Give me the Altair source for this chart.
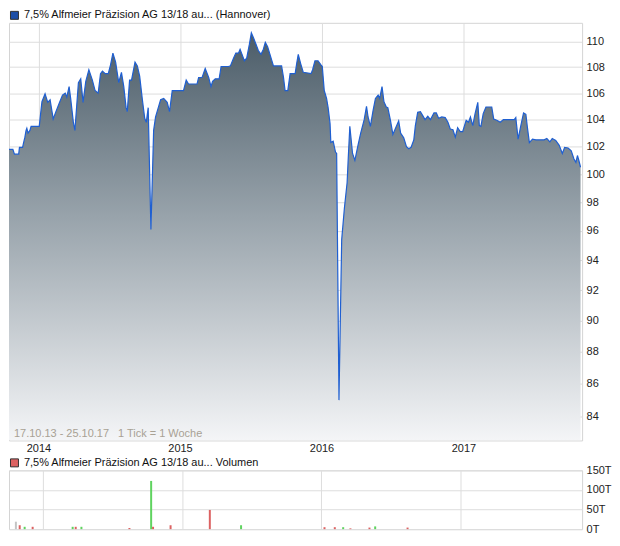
import altair as alt
import pandas as pd

START = pd.Timestamp("2013-10-17")

series_name = "7,5% Alfmeier Präzision AG 13/18 au... (Hannover)"
volume_name = "7,5% Alfmeier Präzision AG 13/18 au... Volumen"
footer = "17.10.13 - 25.10.17\u00a0\u00a0\u00a01 Tick = 1 Woche"

# price: days after 17.10.2013 and price
price_day = [0, 10, 14, 25, 27, 35, 37, 41, 44, 46, 49, 54, 57, 78, 81, 85, 93, 100, 106, 114,
             121, 129, 138, 145, 149, 155, 159, 166, 170, 174, 179, 185, 191, 198, 206, 215, 222, 230, 236, 241,
             248, 256, 262, 268, 275, 283, 290, 296, 302, 305, 311, 316, 325, 331, 337, 344, 350, 354, 359, 366,
             369, 373, 378, 385, 391, 399, 408, 414, 421, 450, 457, 463, 485, 489, 498, 506, 515, 521, 525, 532,
             542, 547, 566, 571, 579, 585, 592, 596, 601, 607, 613, 620, 625, 630, 637, 643, 650, 656, 661, 667,
             673, 682, 703, 708, 712, 719, 725, 738, 742, 746, 752, 759, 779, 783, 789, 797, 804, 808, 813, 819,
             823, 828, 830, 836, 842, 845, 851, 858, 865, 872, 875, 879, 886, 892, 900, 907, 916, 922, 926, 932,
             939, 945, 952, 956, 962, 967, 973, 977, 984, 990, 996, 1005, 1010, 1018, 1025, 1031, 1037, 1044, 1048, 1054,
             1061, 1067, 1073, 1080, 1087, 1096, 1102, 1108, 1116, 1125, 1132, 1138, 1145, 1151, 1157, 1164, 1170, 1179, 1185, 1190,
             1196, 1202, 1209, 1213, 1217, 1223, 1230, 1245, 1250, 1258, 1267, 1275, 1303, 1307, 1313, 1320, 1327, 1333, 1337, 1342,
             1350, 1359, 1380, 1387, 1395, 1401, 1410, 1419, 1427, 1433, 1442, 1450, 1457, 1462, 1466, 1470, 1474]
price_val = [101.8, 101.8, 101.45, 101.45, 101.95, 101.95, 102.2, 102.7, 103.2, 103.35, 103.0, 103.2, 103.5, 103.5, 104.3, 105.35, 105.95, 105.3, 105.5, 104.05,
             104.6, 105.2, 105.85, 106.0, 105.7, 106.5, 105.6, 103.8, 103.2, 104.8, 106.8, 107.1, 105.3, 106.9, 107.8, 107.0, 106.2, 106.0, 107.5, 107.7,
             107.5, 107.5, 108.2, 109.1, 108.4, 106.8, 107.6, 106.5, 104.9, 104.6, 107.0, 107.0, 108.4, 108.1, 107.3, 105.5, 104.1, 103.8, 104.9, 96.1,
             99.0, 103.2, 104.2, 104.9, 105.5, 105.6, 105.3, 104.6, 106.2, 106.2, 107.0, 106.7, 106.7, 107.2, 107.2, 107.9, 107.2, 106.5, 106.9, 107.1,
             107.1, 108.05, 108.05, 108.1, 108.7, 109.1, 109.1, 109.4, 109.0, 108.5, 108.7, 109.8, 110.7, 110.35, 109.8, 109.3, 109.0, 109.4, 109.95, 109.6,
             109.0, 108.1, 108.1, 107.2, 106.2, 106.2, 107.5, 107.5, 108.3, 109.0, 108.3, 107.6, 107.5, 107.8, 108.5, 108.5, 108.2, 108.05, 106.2, 105.6,
             104.9, 103.7, 102.3, 102.4, 101.6, 101.5, 85.0, 95.4, 97.6, 99.4, 101.2, 103.5, 101.5, 101.0, 102.1, 103.0, 104.0, 105.0, 104.2, 103.5,
             104.7, 105.6, 105.85, 105.6, 106.5, 105.35, 104.95, 104.9, 103.9, 102.9, 103.3, 103.9, 103.0, 102.65, 102.0, 101.85, 101.95, 102.5, 103.55, 104.55,
             104.6, 104.3, 104.0, 104.25, 104.0, 104.5, 104.5, 104.1, 104.2, 104.15, 103.8, 103.3, 103.25, 102.7, 103.4, 103.1, 103.1, 103.95, 103.8, 104.2,
             103.55, 104.45, 105.3, 103.55, 103.5, 104.45, 104.95, 104.95, 104.05, 103.95, 103.8, 104.0, 104.0, 104.15, 102.55, 103.55, 104.5, 104.4, 103.4, 102.3,
             102.55, 102.5, 102.5, 102.6, 102.35, 102.6, 102.45, 102.1, 101.5, 101.95, 101.9, 101.7, 101.1, 100.85, 101.35, 100.95, 100.5]

# volume: days after 17.10.2013, thousands, direction
vol_day = [5, 15, 28, 49, 154, 162, 177, 303, 360, 365, 411, 514, 596, 815, 842, 864, 883, 933, 948, 1033]
vol_T = [19, 10, 6, 6, 6, 6, 6, 3, 123, 6, 10, 49, 10, 5, 5, 5, 2, 4, 7, 4]
vol_kind = ["flat", "down", "up", "down", "up", "down", "up", "down", "up", "down",
            "down", "down", "up", "down", "down", "up", "down", "down", "up", "down"]

price_ticks = [84, 86, 88, 90, 92, 94, 96, 98, 100, 102, 104, 106, 108, 110]
vol_ticks = [0, 50, 100, 150]
year_ticks = [2014, 2015, 2016, 2017]

W, H1, H2 = 575, 419, 59
FONT = "Liberation Sans"
GRID = "#dddddd"

price = pd.DataFrame({"date": [START + pd.Timedelta(days=d) for d in price_day], "value": price_val,
                      "name": series_name})
vol = pd.DataFrame({"date": [START + pd.Timedelta(days=d) for d in vol_day], "vol": vol_T, "kind": vol_kind,
                    "name": volume_name})

xdom = [alt.DateTime(year=2013, month=10, date=17), alt.DateTime(year=2017, month=11, date=3)]
year_vals = [alt.DateTime(year=y, month=1, date=1) for y in year_ticks]
YMIN, YMAX = 82.57, 111.5


def legend():
    return alt.Legend(orient="none", legendX=0, legendY=-13, title=None, symbolType="square",
                      symbolSize=64, symbolStrokeColor="#333333", symbolStrokeWidth=1, symbolOpacity=1,
                      labelFontSize=11, labelFont=FONT, labelColor="#111111", labelLimit=0, padding=0,
                      labelOffset=4)


x_top = alt.X("date:T", scale=alt.Scale(domain=xdom, nice=False),
              axis=alt.Axis(values=year_vals, format="%Y", grid=True, gridColor=GRID, ticks=False, tickSize=0,
                            domain=False, labelPadding=2, labelFlush=False, labelOverlap=False, title=None))
y_top = alt.Y("value:Q", scale=alt.Scale(type="log", domain=[YMIN, YMAX], nice=False),
              axis=alt.Axis(orient="right", values=price_ticks, format="d", grid=True, gridColor=GRID,
                            ticks=False, tickSize=0, domain=False, labelPadding=4, labelOverlap=False, title=None))

grad = alt.Gradient(gradient="linear",
                    stops=[alt.GradientStop(color="#4b5c68", offset=0),
                           alt.GradientStop(color="#98a3ab", offset=0.45),
                           alt.GradientStop(color="#f4f5f7", offset=1)],
                    x1=1, x2=1, y1=0, y2=1)

base = alt.Chart(price)
area = base.mark_area(color=grad, clip=True).encode(x=x_top, y=y_top, y2=alt.datum(YMIN))
line = base.mark_line(color="#1f5fd1", strokeWidth=1.2, clip=True).encode(x=x_top, y=y_top)
leg_top = base.mark_point(shape="square", filled=True, opacity=0).encode(
    x=x_top, y=y_top,
    fill=alt.Fill("name:N", scale=alt.Scale(range=["#1d4ea6"]), legend=legend()))
txt = alt.Chart(pd.DataFrame({"t": [footer]})).mark_text(
    align="left", baseline="middle", color="#a8a194", fontSize=11, font=FONT
).encode(x=alt.value(5), y=alt.value(H1 - 6), text="t:N")

top = alt.layer(area, line, leg_top, txt).properties(width=W, height=H1)

x_bot = alt.X("date:T", scale=alt.Scale(domain=xdom, nice=False),
              axis=alt.Axis(values=year_vals, grid=True, gridColor=GRID, labels=False, ticks=False, tickSize=0,
                            domain=False, title=None))
y_bot = alt.Y("vol:Q", scale=alt.Scale(domain=[0, 150], nice=False),
              axis=alt.Axis(orient="right", values=vol_ticks, labelExpr="datum.value + 'T'", grid=True,
                            gridColor=GRID, ticks=False, tickSize=0, domain=False, labelPadding=4,
                            labelOverlap=False, labelFlush=False, title=None))
vbase = alt.Chart(vol)
bars = vbase.mark_bar(size=2).encode(
    x=x_bot, y=y_bot,
    color=alt.Color("kind:N", scale=alt.Scale(domain=["up", "down", "flat"],
                                              range=["#5fd35f", "#dc6262", "#c4c4c4"]), legend=None))
leg_bot = vbase.mark_point(shape="square", filled=True, opacity=0).encode(
    x=x_bot, y=y_bot,
    fill=alt.Fill("name:N", scale=alt.Scale(range=["#dc6262"]), legend=legend()))

bottom = alt.layer(bars, leg_bot).properties(width=W, height=H2)

chart = alt.vconcat(top, bottom, spacing=2).resolve_scale(
    fill="independent", color="independent"
).properties(
    padding={"left": -3, "top": 0, "right": 0, "bottom": 0}
).configure_view(stroke="#d4d4d4").configure_axis(
    labelFont=FONT, labelFontSize=11, labelColor="#222222"
)

chart.save("out.html", embed_options={"renderer": "svg", "actions": False})
